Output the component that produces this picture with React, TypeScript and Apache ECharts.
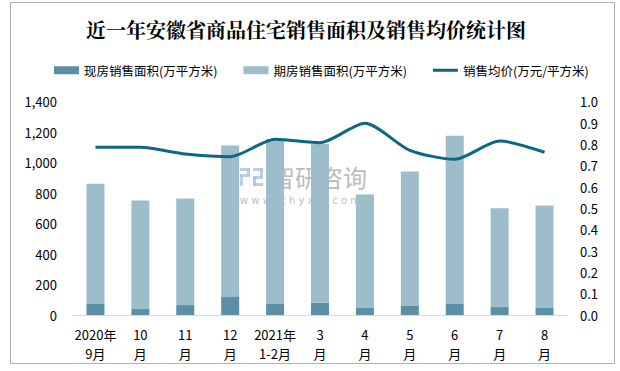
import React, { useEffect, useRef } from "react";
import * as echarts from "echarts";

const categories = ["2020年\n9月", "10\n月", "11\n月", "12\n月", "2021年\n1-2月", "3\n月", "4\n月", "5\n月", "6\n月", "7\n月", "8\n月"];
const existingArea = [72, 39, 65, 118, 72, 80, 46, 59, 72, 52, 46];
const futuresArea = [790, 713, 700, 994, 1084, 1043, 745, 883, 1105, 648, 673];
const avgPrice = [0.786, 0.786, 0.755, 0.742, 0.824, 0.808, 0.899, 0.772, 0.73, 0.816, 0.763];
const seriesNames = ["现房销售面积(万平方米)", "期房销售面积(万平方米)", "销售均价(万元/平方米)"];
const titleText = "近一年安徽省商品住宅销售面积及销售均价统计图";

const FONT = '"Noto Sans CJK SC", "Microsoft YaHei", sans-serif';

export default function App() {
  const ref = useRef<HTMLDivElement>(null);
  useEffect(() => {
    document.body.style.margin = "0";
    const chart = echarts.init(ref.current!, null, { renderer: "svg" });
    chart.setOption({
      animation: false,
      backgroundColor: "#ffffff",
      title: {
        text: titleText,
        left: 301,
        top: 14,
        textAlign: "center",
        textStyle: { fontSize: 20, fontWeight: "bold", color: "#000", fontFamily: '"Noto Serif CJK SC", "Noto Sans CJK SC", serif' },
      },
      legend: {
        left: 49,
        top: 59,
        itemWidth: 25,
        itemHeight: 8,
        itemGap: 26,
        symbolKeepAspect: true,
        textStyle: { fontSize: 12.5, color: "#000", fontFamily: FONT },
        data: [
          { name: seriesNames[0], icon: "rect" },
          { name: seriesNames[1], icon: "rect" },
          { name: seriesNames[2], icon: "path://M0 0 H100 V12 H0 Z" },
        ],
      },
      grid: { left: 73, right: 53, top: 101.7, bottom: 56, containLabel: false },
      xAxis: {
        type: "category",
        data: categories,
        axisTick: { show: false },
        axisLine: { lineStyle: { color: "#d9d9d9", width: 1 } },
        axisLabel: { interval: 0, fontSize: 13, lineHeight: 19, color: "#000", margin: 10, fontFamily: FONT },
      },
      yAxis: [
        {
          type: "value",
          min: 0,
          max: 1400,
          interval: 200,
          splitLine: { show: false },
          axisLine: { show: false },
          axisTick: { show: false },
          axisLabel: {
            fontSize: 13,
            color: "#000",
            margin: 16,
            fontFamily: FONT,
            formatter: (v: number) => v.toLocaleString("en-US"),
          },
        },
        {
          type: "value",
          min: 0,
          max: 1,
          interval: 0.1,
          splitLine: { show: false },
          axisLine: { show: false },
          axisTick: { show: false },
          axisLabel: {
            fontSize: 13,
            color: "#000",
            margin: 13,
            fontFamily: FONT,
            formatter: (v: number) => v.toFixed(1),
          },
        },
      ],
      series: [
        {
          name: seriesNames[0],
          type: "bar",
          stack: "area",
          barWidth: 18,
          data: existingArea,
          itemStyle: { color: "#5b8fa6" },
        },
        {
          name: seriesNames[1],
          type: "bar",
          stack: "area",
          barWidth: 18,
          data: futuresArea,
          itemStyle: { color: "#9dbdcb" },
        },
        {
          name: seriesNames[2],
          type: "line",
          yAxisIndex: 1,
          data: avgPrice,
          smooth: 0.25,
          symbol: "none",
          lineStyle: { color: "#0b6688", width: 3 },
          itemStyle: { color: "#0b6688" },
        },
      ],
      graphic: [
        {
          type: "rect",
          shape: { x: 10.5, y: 2.5, width: 604, height: 361 },
          style: { fill: "none", stroke: "#b0b0b0", lineWidth: 1 },
          silent: true,
        },
        {
          type: "group",
          z: 100,
          silent: true,
          children: [
            { type: "rect", shape: { x: 240, y: 168, width: 10, height: 3 }, style: { fill: "rgba(170,195,230,0.8)" } },
            { type: "rect", shape: { x: 247, y: 168, width: 3, height: 8 }, style: { fill: "rgba(170,195,230,0.8)" } },
            { type: "rect", shape: { x: 240, y: 174, width: 10, height: 3 }, style: { fill: "rgba(170,195,230,0.8)" } },
            { type: "rect", shape: { x: 240, y: 174, width: 3, height: 12 }, style: { fill: "rgba(170,195,230,0.8)" } },
            { type: "rect", shape: { x: 253, y: 168, width: 10, height: 3 }, style: { fill: "rgba(170,195,230,0.8)" } },
            { type: "rect", shape: { x: 260, y: 168, width: 3, height: 9 }, style: { fill: "rgba(170,195,230,0.8)" } },
            { type: "rect", shape: { x: 253, y: 176, width: 10, height: 3 }, style: { fill: "rgba(170,195,230,0.8)" } },
            { type: "rect", shape: { x: 253, y: 176, width: 3, height: 10 }, style: { fill: "rgba(170,195,230,0.8)" } },
            { type: "rect", shape: { x: 253, y: 183, width: 10, height: 3 }, style: { fill: "rgba(170,195,230,0.8)" } },
            {
              type: "text",
              x: 271,
              y: 176,
              style: { text: "智研咨询", font: '24px "Noto Sans CJK SC", sans-serif', fill: "rgba(140,140,140,0.6)", textVerticalAlign: "middle" },
            },
            {
              type: "text",
              x: 240,
              y: 200,
              style: { text: "w w w . c h y x x . c o m", font: '10px "DejaVu Sans", sans-serif', fill: "rgba(140,140,140,0.6)", textVerticalAlign: "middle" },
            },
          ],
        },
      ],
    });
    return () => chart.dispose();
  }, []);
  return <div ref={ref} style={{ width: 620, height: 371 }} />;
}
